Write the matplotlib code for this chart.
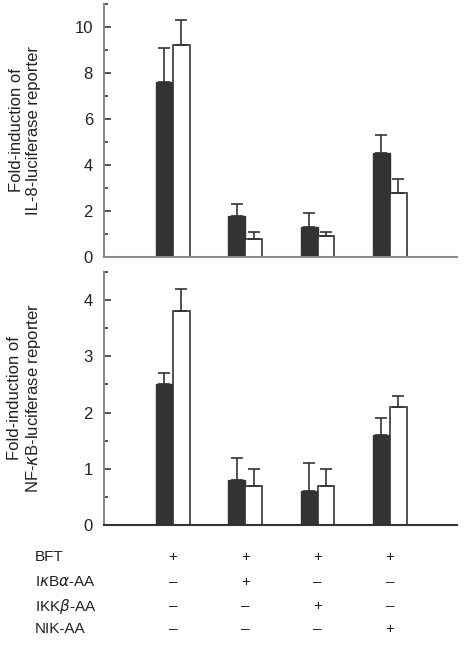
import numpy as np
import matplotlib
matplotlib.use("Agg")
import matplotlib.pyplot as plt

plt.rcParams['font.family'] = ['Liberation Sans', 'DejaVu Sans']

# IL-8 reporter (top panel)
il8_dark = [7.6, 1.8, 1.3, 4.5]
il8_dark_err = [1.5, 0.5, 0.6, 0.8]
il8_white = [9.2, 0.8, 0.9, 2.8]
il8_white_err = [1.1, 0.3, 0.2, 0.6]

# NF-kB reporter (bottom panel)
nfkb_dark = [2.5, 0.8, 0.6, 1.6]
nfkb_dark_err = [0.2, 0.4, 0.5, 0.3]
nfkb_white = [3.8, 0.7, 0.7, 2.1]
nfkb_white_err = [0.4, 0.3, 0.3, 0.2]

row_labels = ['BFT', r'I$\kappa$B$\alpha$-AA', r'IKK$\beta$-AA', 'NIK-AA']
signs = [['+', '+', '+', '+'],
         ['\u2013', '+', '\u2013', '\u2013'],
         ['\u2013', '\u2013', '+', '\u2013'],
         ['\u2013', '\u2013', '\u2013', '+']]

W, H = 468, 646
fig = plt.figure(figsize=(W / 100, H / 100), dpi=100)

x = np.arange(4)
bw = 0.235
spine_col = '#8a8a8a'


def draw_panel(ax, dark, dark_err, white, white_err, ymax, major, minor, ylabel):
    ax.bar(x - bw / 2, dark, bw, color='#333333', edgecolor='#333333', linewidth=1)
    ax.bar(x + bw / 2, white, bw, color='white', edgecolor='#333333', linewidth=1.2)
    ax.errorbar(x - bw / 2, dark, yerr=[np.zeros(4), dark_err], fmt='none',
                ecolor='#333333', elinewidth=1.2, capsize=4, capthick=1.2)
    ax.errorbar(x + bw / 2, white, yerr=[np.zeros(4), white_err], fmt='none',
                ecolor='#333333', elinewidth=1.2, capsize=4, capthick=1.2)
    ax.set_xlim(-0.954, 3.93)
    ax.set_ylim(0, ymax)
    ax.set_yticks(major)
    ax.set_yticks(minor, minor=True)
    ax.set_xticks([])
    for s in ['top', 'right']:
        ax.spines[s].set_visible(False)
    for s in ['left', 'bottom']:
        ax.spines[s].set_color(spine_col)
        ax.spines[s].set_linewidth(1.5)
    ax.tick_params(axis='y', which='major', direction='in', length=5, width=1.2,
                   color='#333333', labelsize=12, pad=8, labelcolor='#222222')
    ax.tick_params(axis='y', which='minor', direction='in', length=3, width=1.2,
                   color='#333333')
    # two-line y label, placed like the original
    pos = ax.get_position()
    fig.text(25 / W, (pos.y0 + pos.y1) / 2, ylabel, rotation=90, ha='center',
             va='center', fontsize=12, color='#222222', multialignment='center')


ax1 = fig.add_axes([104 / W, 1 - 257 / H, 353 / W, 253 / H])
draw_panel(ax1, il8_dark, il8_dark_err, il8_white, il8_white_err, 11,
           [0, 2, 4, 6, 8, 10], [1, 3, 5, 7, 9, 11],
           'Fold-induction of\nIL-8-luciferase reporter')

ax2 = fig.add_axes([104 / W, 1 - 525 / H, 353 / W, 253 / H])
draw_panel(ax2, nfkb_dark, nfkb_dark_err, nfkb_white, nfkb_white_err, 4.5,
           [0, 1, 2, 3, 4], [0.5, 1.5, 2.5, 3.5, 4.5],
           'Fold-induction of\nNF-$\\kappa$B-luciferase reporter')
ax2.spines['bottom'].set_color('#333333')

# treatment table below the bottom panel
row_y = [557, 582, 606, 629]
for r, lab in enumerate(row_labels):
    fig.text(35 / W, 1 - row_y[r] / H, lab, fontsize=11, va='center', ha='left',
             color='#222222')
    for c in range(4):
        xf = ax2.transData.transform((x[c], 0))[0] / W
        fig.text(xf, 1 - row_y[r] / H, signs[r][c], fontsize=11, va='center',
                 ha='center', color='#222222')

fig.savefig('out.png', dpi=100)
